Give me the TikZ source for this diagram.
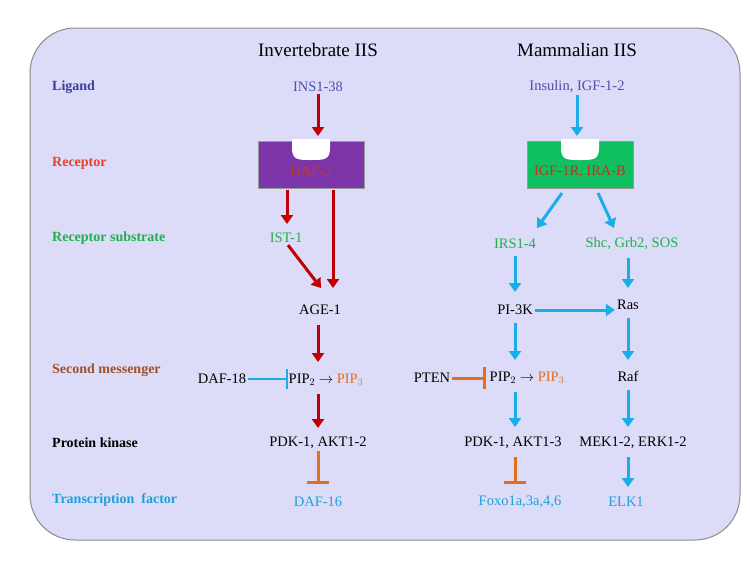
\documentclass[tikz,border=0pt]{standalone}
\usepackage{fontspec}
\setmainfont{Liberation Serif}
\usetikzlibrary{arrows.meta}
\definecolor{bg}{HTML}{DCDCF8}
\definecolor{cred}{HTML}{C00000}
\definecolor{cblue}{HTML}{1AAEE8}
\definecolor{corange}{HTML}{E07020}
\definecolor{clig}{HTML}{3C3CA0}
\definecolor{crec}{HTML}{E8412C}
\definecolor{cgreen}{HTML}{22B04C}
\definecolor{cbrown}{HTML}{A0502A}
\definecolor{ctf}{HTML}{1EA0D8}
\definecolor{cpurple}{HTML}{7B35A8}
\definecolor{cgbox}{HTML}{10C060}
\begin{document}
\begin{tikzpicture}[x=1pt,y=-1pt,
  txt/.style={font=\fontsize{14.5}{17}\selectfont, inner sep=2pt},
  lab/.style={font=\fontsize{14}{17}\selectfont\bfseries, anchor=west, inner sep=0pt},
  hd/.style={font=\fontsize{19}{22}\selectfont},
  ra/.style={draw=cred, line width=3pt, -{Triangle[width=12pt,length=9pt]}},
  ba/.style={draw=cblue, line width=3pt, -{Triangle[width=12pt,length=9pt]}},
  oinh/.style={draw=corange, line width=3pt, -{Bar[width=22pt]}},
  binh/.style={draw=cblue, line width=2.5pt, -{Bar[width=20pt]}},
  box/.style={draw=black!40, line width=0.6pt}]
\useasboundingbox (0,0) rectangle (750,563);
\fill[white] (0,0) rectangle (750,563);
\draw[fill=bg, draw=black!45, line width=1pt, rounded corners=45pt] (30,28) rectangle (740,540);
% headers
\node[hd] (h1) at (318,50) {Invertebrate IIS};
\node[hd] (h2) at (577,50) {Mammalian IIS};
% left labels
\node[lab, text=clig] (l1) at (52,87) {Ligand};
\node[lab, text=crec] (l2) at (52,163) {Receptor};
\node[lab, text=cgreen] (l3) at (52,238) {Receptor substrate};
\node[lab, text=cbrown] (l4) at (52,370) {Second messenger};
\node[lab, text=black] (l5) at (52,443) {Protein kinase};
\node[lab, text=ctf] (l6) at (52,500) {Transcription\ \ factor};
% boxes
\fill[cpurple, box] (258,141) rectangle (364,188);
\fill[white] (292,139) -- (292,148) .. controls (292,160) and (298,160) .. (311,160) .. controls (324,160) and (330,160) .. (330,148) -- (330,139) -- cycle;
\node[txt, text=crec!85!black] (daf2) at (311,172) {DAF-2};
\fill[cgbox, box] (527,141) rectangle (633,188);
\fill[white] (561,139) -- (561,148) .. controls (561,160) and (567,160) .. (580,160) .. controls (593,160) and (599,160) .. (599,148) -- (599,139) -- cycle;
\node[txt, text=crec!80!black] (igf) at (580,172) {IGF-1R, IRA-B};
\coordinate (rbot) at (318,136);
\coordinate (mbot) at (577,136);
\coordinate (d1) at (287,190);
\coordinate (d2) at (333,190);
\coordinate (g1) at (562,193);
\coordinate (g2) at (598,193);
% invertebrate
\node[txt, text=clig!90] (ins) at (318,87) {INS1-38};
\node[txt, text=cgreen] (ist) at (286,238) {IST-1};
\node[txt] (age) at (320,310) {AGE-1};
\node[txt] (daf18) at (222,379) {DAF-18};
\node[txt] (pip) at (326,380) {PIP$_2$ $\rightarrow$ \textcolor{corange}{PIP$_3$}};
\node[txt] (pdk) at (318,443) {PDK-1, AKT1-2};
\node[txt, text=ctf] (daf16) at (318,502) {DAF-16};
\coordinate (ageN) at (318,288);
\coordinate (ageS) at (318,325);
\draw[ra] (ins.south) -- (rbot);
\draw[ra] (d1) -- (287,224);
\draw[ra] (d2) -- (333,288);
\draw[ra] (ist.south) ++(2,0) -- (321,288);
\draw[ra] (ageS) -- (318,362);
\draw[ra] (318,394) -- (318,428);
\draw[binh] (daf18.east) -- (288,379);
\draw[oinh] (pdk.south) -- (318,484);
% mammalian
\node[txt, text=clig!90] (insu) at (577,87) {Insulin, IGF-1-2};
\node[txt, text=cgreen] (irs) at (515,244) {IRS1-4};
\node[txt, text=cgreen] (shc) at (632,244) {Shc, Grb2, SOS};
\node[txt] (pi3k) at (515,310) {PI-3K};
\node[txt] (ras) at (628,305) {Ras};
\node[txt] (pten) at (432,378) {PTEN};
\node[txt] (pip2) at (527,378) {PIP$_2$ $\rightarrow$ \textcolor{corange}{PIP$_3$}};
\node[txt] (raf) at (628,376) {Raf};
\node[txt] (pdk2) at (513,443) {PDK-1, AKT1-3};
\node[txt] (mek) at (633,443) {MEK1-2, ERK1-2};
\node[txt, text=ctf] (foxo) at (520,502) {Foxo1a,3a,4,6};
\node[txt, text=ctf] (elk) at (626,502) {ELK1};
\draw[ba] (insu.south) -- (mbot);
\draw[ba] (g1) -- (537,228);
\draw[ba] (g2) -- (614,228);
\draw[ba] (515,256) -- (515,292);
\draw[ba] (628,258) -- (628,288);
\draw[ba] (pi3k.east) -- (pi3k.east -| ras.west);
\draw[ba] (515,323) -- (515,360);
\draw[ba] (628,318) -- (628,360);
\draw[ba] (515,392) -- (515,427);
\draw[ba] (628,390) -- (628,427);
\draw[oinh] (pten.east) -- (486,378);
\draw[oinh] (515,457) -- (515,484);
\draw[ba] (628,457) -- (628,487);
\end{tikzpicture}
\end{document}
